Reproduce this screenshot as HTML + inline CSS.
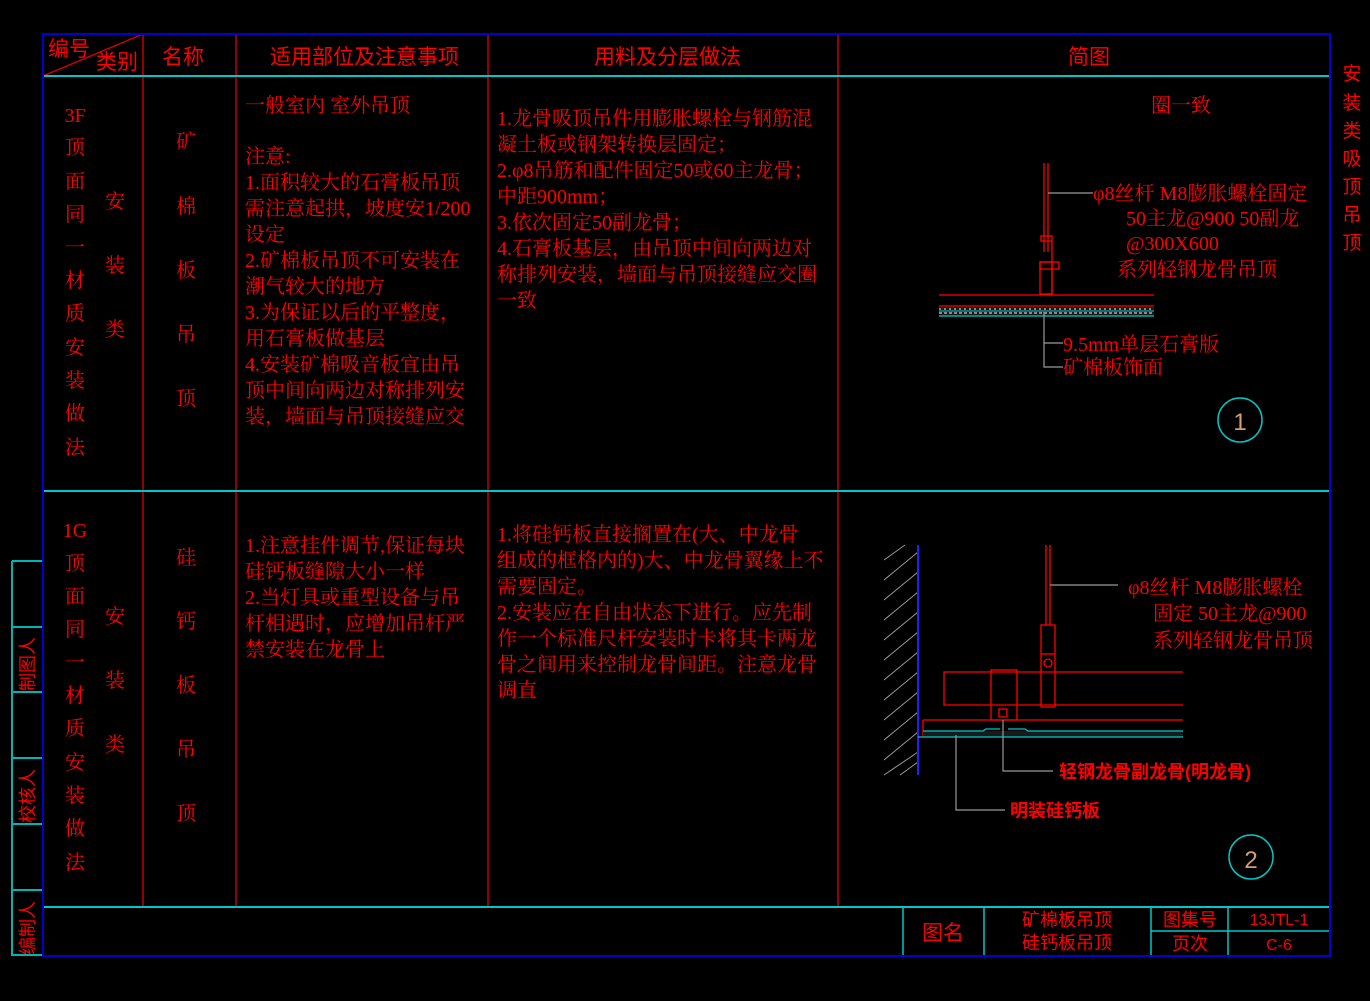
<!DOCTYPE html>
<html><head><meta charset="utf-8"><style>
html,body{margin:0;padding:0;background:#000;}
svg{display:block;}
.t{font-family:"Liberation Serif","Noto Serif CJK SC",serif;font-size:20px;fill:#ff0000;}
.h{font-family:"Liberation Sans","Noto Sans CJK SC",sans-serif;font-size:21px;fill:#ff0000;}
.s{font-family:"Liberation Sans","Noto Sans CJK SC",sans-serif;font-size:17px;fill:#ff0000;}
.b{font-family:"Liberation Sans","Noto Sans CJK SC",sans-serif;font-size:18px;fill:#ff0000;font-weight:bold;}
</style></head><body>
<svg width="1370" height="1001" viewBox="0 0 1370 1001" xmlns="http://www.w3.org/2000/svg">
<rect width="1370" height="1001" fill="#000"/>
<g stroke="#00b4b4" stroke-width="2" fill="none">
<line x1="12" y1="561" x2="12" y2="956"/>
<line x1="12" y1="561" x2="43" y2="561"/>
<line x1="12" y1="627" x2="43" y2="627"/>
<line x1="12" y1="692" x2="43" y2="692"/>
<line x1="12" y1="758" x2="43" y2="758"/>
<line x1="12" y1="824" x2="43" y2="824"/>
<line x1="12" y1="890" x2="43" y2="890"/>
<line x1="12" y1="955" x2="43" y2="955"/>
</g>
<g class="s" style="font-size:18px">
<text transform="translate(34,691) rotate(-90)">制图人</text>
<text transform="translate(34,823) rotate(-90)">校核人</text>
<text transform="translate(34,955) rotate(-90)">编制人</text>
</g>
<g stroke="#e00000" stroke-width="1.3">
<line x1="143" y1="34" x2="143" y2="907"/>
<line x1="236" y1="34" x2="236" y2="907"/>
<line x1="488" y1="34" x2="488" y2="907"/>
<line x1="838" y1="34" x2="838" y2="907"/>
<line x1="43" y1="76" x2="143" y2="34"/>
</g>
<g stroke="#00c8c8" stroke-width="2">
<line x1="43" y1="76" x2="1330" y2="76"/>
<line x1="43" y1="491" x2="1330" y2="491"/>
<line x1="43" y1="907" x2="1330" y2="907"/>
</g>
<g stroke="#00c8c8" stroke-width="1.5">
<line x1="903" y1="907" x2="903" y2="956"/>
<line x1="984" y1="907" x2="984" y2="956"/>
<line x1="1151" y1="907" x2="1151" y2="956"/>
<line x1="1228" y1="907" x2="1228" y2="956"/>
<line x1="1151" y1="931" x2="1330" y2="931"/>
</g>
<rect x="43" y="34" width="1287" height="922" fill="none" stroke="#0000d0" stroke-width="2"/>
<text class="h" x="48" y="56">编号</text>
<text class="h" x="96" y="69">类别</text>
<text class="h" x="162" y="64">名称</text>
<text class="h" x="270" y="64">适用部位及注意事项</text>
<text class="h" x="594" y="64">用料及分层做法</text>
<text class="h" x="1068" y="64">简图</text>
<g class="s" text-anchor="middle" style="font-size:19px">
<text x="1352" y="80">安</text><text x="1352" y="109">装</text><text x="1352" y="137">类</text><text x="1352" y="165">吸</text><text x="1352" y="193">顶</text><text x="1352" y="221">吊</text><text x="1352" y="249">顶</text>
</g>
<g class="t" text-anchor="middle">
<text x="75" y="122">3F</text><text x="75" y="154">顶</text><text x="75" y="188">面</text><text x="75" y="221">同</text><text x="75" y="254">一</text><text x="75" y="287">材</text><text x="75" y="320">质</text><text x="75" y="354">安</text><text x="75" y="387">装</text><text x="75" y="420">做</text><text x="75" y="454">法</text>
<text x="115" y="208">安</text><text x="115" y="272">装</text><text x="115" y="336">类</text>
<text x="186" y="148">矿</text><text x="186" y="213">棉</text><text x="186" y="277">板</text><text x="186" y="341">吊</text><text x="186" y="405">顶</text>
<text x="75" y="537">1G</text><text x="75" y="570">顶</text><text x="75" y="603">面</text><text x="75" y="636">同</text><text x="75" y="669">一</text><text x="75" y="702">材</text><text x="75" y="735">质</text><text x="75" y="769">安</text><text x="75" y="802">装</text><text x="75" y="835">做</text><text x="75" y="869">法</text>
<text x="115" y="623">安</text><text x="115" y="687">装</text><text x="115" y="751">类</text>
<text x="186" y="564">硅</text><text x="186" y="628">钙</text><text x="186" y="692">板</text><text x="186" y="756">吊</text><text x="186" y="820">顶</text>
</g>
<g class="t">
<text x="245" y="112">一般室内 室外吊顶</text>
<text x="245" y="163">注意:</text>
<text x="245" y="189">1.面积较大的石膏板吊顶</text>
<text x="245" y="215">需注意起拱，坡度安1/200</text>
<text x="245" y="241">设定</text>
<text x="245" y="267">2.矿棉板吊顶不可安装在</text>
<text x="245" y="293">潮气较大的地方</text>
<text x="245" y="319">3.为保证以后的平整度，</text>
<text x="245" y="345">用石膏板做基层</text>
<text x="245" y="371">4.安装矿棉吸音板宜由吊</text>
<text x="245" y="397">顶中间向两边对称排列安</text>
<text x="245" y="423">装，墙面与吊顶接缝应交</text>
<text x="497" y="125">1.龙骨吸顶吊件用膨胀螺栓与钢筋混</text>
<text x="497" y="151">凝土板或钢架转换层固定；</text>
<text x="497" y="177">2.φ8吊筋和配件固定50或60主龙骨；</text>
<text x="497" y="203">中距900mm；</text>
<text x="497" y="229">3.依次固定50副龙骨；</text>
<text x="497" y="255">4.石膏板基层，由吊顶中间向两边对</text>
<text x="497" y="281">称排列安装，墙面与吊顶接缝应交圈</text>
<text x="497" y="307">一致</text>
<text x="245" y="552">1.注意挂件调节,保证每块</text>
<text x="245" y="578">硅钙板缝隙大小一样</text>
<text x="245" y="604">2.当灯具或重型设备与吊</text>
<text x="245" y="630">杆相遇时，应增加吊杆严</text>
<text x="245" y="656">禁安装在龙骨上</text>
<text x="497" y="541">1.将硅钙板直接搁置在(大、中龙骨</text>
<text x="497" y="567">组成的框格内的)大、中龙骨翼缘上不</text>
<text x="497" y="593">需要固定。</text>
<text x="497" y="619">2.安装应在自由状态下进行。应先制</text>
<text x="497" y="645">作一个标准尺杆安装时卡将其卡两龙</text>
<text x="497" y="671">骨之间用来控制龙骨间距。注意龙骨</text>
<text x="497" y="697">调直</text>
<text x="1151" y="112">圈一致</text>
<text x="1093" y="200">φ8丝杆 M8膨胀螺栓固定</text>
<text x="1126" y="225">50主龙@900  50副龙</text>
<text x="1126" y="250">@300X600</text>
<text x="1117" y="276">系列轻钢龙骨吊顶</text>
<text x="1063" y="351">9.5mm单层石膏版</text>
<text x="1063" y="374">矿棉板饰面</text>
<text x="1128" y="594">φ8丝杆 M8膨胀螺栓</text>
<text x="1153" y="620">固定    50主龙@900</text>
<text x="1153" y="647">系列轻钢龙骨吊顶</text>
</g>
<g stroke="#ff0000" stroke-width="1.3" fill="none">
<line x1="1044" y1="163" x2="1044" y2="252"/>
<line x1="1048" y1="163" x2="1048" y2="252"/>
<rect x="1041" y="236" width="11" height="5"/>
<line x1="1052" y1="241" x2="1052" y2="294"/>
<rect x="1040" y="262" width="12" height="32"/>
<rect x="1040" y="262" width="19" height="7"/>
<line x1="939" y1="295" x2="1154" y2="295"/>
<line x1="939" y1="306" x2="1154" y2="306"/>
</g>
<rect x="939" y="307" width="215" height="9" fill="#1a1a1a"/>
<line x1="939" y1="309" x2="1154" y2="309" stroke="#888" stroke-width="2" stroke-dasharray="2 3"/>
<line x1="939" y1="313" x2="1154" y2="313" stroke="#888" stroke-width="2" stroke-dasharray="3 2"/>
<line x1="939" y1="311" x2="1154" y2="311" stroke="#00c8c8" stroke-width="1"/>
<line x1="939" y1="316" x2="1154" y2="316" stroke="#00c8c8" stroke-width="1.3"/>
<g stroke="#999" stroke-width="1.2" fill="none">
<polyline points="1048,193 1093,193"/>
<polyline points="1044,312 1044,367 1063,367"/>
<line x1="1044" y1="343" x2="1063" y2="343"/>
</g>
<circle cx="1240" cy="420" r="22" fill="none" stroke="#00c8c8" stroke-width="1.5"/>
<text x="1240" y="430" text-anchor="middle" font-family="Liberation Sans,sans-serif" font-size="24" fill="#d2a070">1</text>
<g stroke="#999" stroke-width="1">
<line x1="884" y1="560" x2="905" y2="545"/><line x1="884" y1="580" x2="918" y2="552"/>
<line x1="884" y1="600" x2="918" y2="572"/><line x1="884" y1="620" x2="918" y2="592"/>
<line x1="884" y1="640" x2="918" y2="612"/><line x1="884" y1="660" x2="918" y2="632"/>
<line x1="884" y1="680" x2="918" y2="652"/><line x1="884" y1="700" x2="918" y2="672"/>
<line x1="884" y1="720" x2="918" y2="692"/><line x1="884" y1="740" x2="918" y2="712"/>
<line x1="884" y1="760" x2="918" y2="732"/><line x1="884" y1="775" x2="918" y2="752"/>
<line x1="900" y1="775" x2="918" y2="762"/>
</g>
<line x1="918" y1="545" x2="918" y2="775" stroke="#2020ff" stroke-width="2"/>
<g stroke="#ff0000" stroke-width="1.3" fill="none">
<line x1="1046" y1="545" x2="1046" y2="625"/>
<line x1="1050" y1="545" x2="1050" y2="625"/>
<rect x="1041" y="625" width="14" height="82"/>
<line x1="1041" y1="654" x2="1055" y2="654"/>
<circle cx="1048" cy="663" r="4"/>
<polyline points="1183,672 944,672 944,705 1183,705"/>
<rect x="991" y="670" width="26" height="50"/>
<rect x="999" y="709" width="8" height="8"/>
<line x1="923" y1="720" x2="1183" y2="720"/>
<line x1="923" y1="720" x2="923" y2="737"/>
</g>
<rect x="923" y="731" width="260" height="6" fill="#1a1a1a"/>
<g stroke="#00c8c8" stroke-width="1.3" fill="none">
<polyline points="923,731 983,731 986,729 1000,729"/>
<polyline points="1008,729 1025,729 1028,731 1183,731"/>
<line x1="918" y1="737" x2="1183" y2="737"/>
</g>
<g stroke="#999" stroke-width="1.2" fill="none">
<line x1="1050" y1="585" x2="1118" y2="585"/>
<polyline points="1003,720 1003,771 1053,771"/>
<polyline points="956,735 956,810 1005,810"/>
</g>
<text class="b" x="1059" y="778">轻钢龙骨副龙骨(明龙骨)</text>
<text class="b" x="1010" y="817">明装硅钙板</text>
<circle cx="1251" cy="857" r="22" fill="none" stroke="#00c8c8" stroke-width="1.5"/>
<text x="1251" y="868" text-anchor="middle" font-family="Liberation Sans,sans-serif" font-size="24" fill="#d2a070">2</text>
<text class="h" x="943" y="940" text-anchor="middle" font-size="25">图名</text>
<g class="s" text-anchor="middle" style="font-size:18px">
<text x="1067" y="926">矿棉板吊顶</text>
<text x="1067" y="949">硅钙板吊顶</text>
<text x="1190" y="926">图集号</text>
<text x="1190" y="950">页次</text>
<text x="1279" y="925" font-size="16">13JTL-1</text>
<text x="1279" y="950" font-size="16">C-6</text>
</g>
</svg>
</body></html>
